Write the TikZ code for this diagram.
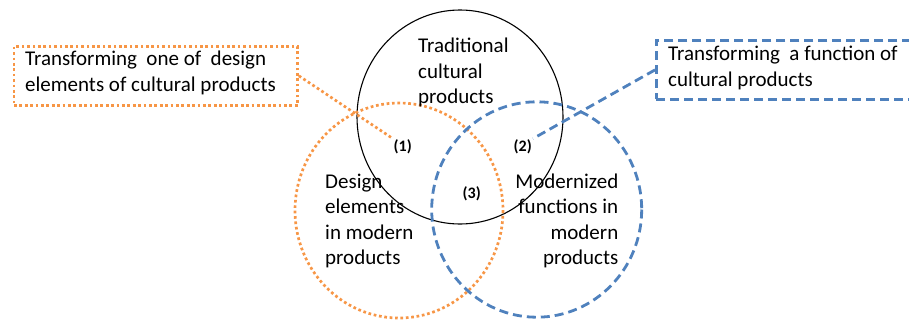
\documentclass[tikz,border=0pt]{standalone}
\usepackage{fontspec}
\setmainfont{Carlito}
\begin{document}
\begin{tikzpicture}[x=1pt,y=-1pt,
  txt/.style={inner sep=0pt,font=\fontsize{21}{25.5}\selectfont},
  num/.style={inner sep=1pt,font=\fontsize{16}{19}\selectfont\bfseries},
  orangeline/.style={draw=dotorange,line width=2.7pt,dash pattern=on 2.7pt off 2.7pt},
  blueline/.style={draw=dashblue,line width=2.8pt,dash pattern=on 9pt off 5pt},
]
\definecolor{dotorange}{HTML}{F79646}
\definecolor{dashblue}{HTML}{4F81BD}
\useasboundingbox (0,0) rectangle (909,322);

% the three sets
\draw[black,line width=1.1pt] (460,117) ellipse [x radius=103, y radius=107];
\draw[orangeline] (399,210.5) ellipse [x radius=104, y radius=107.5];
\draw[blueline] (536.7,209.5) ellipse [x radius=105, y radius=107.7];

% callout boxes
\node[orangeline,anchor=north west,minimum width=283.5,minimum height=59,inner sep=0pt] (lbox) at (12.7,45) {};
\node[blueline,anchor=north west,minimum width=280,minimum height=59,inner sep=0pt] (rbox) at (655,39) {};

% callout texts
\node[txt,anchor=base west] (l1) at (25,65.7) {Transforming\ \ one of\ \ design};
\node[txt,anchor=base west] (l2) at (25,91) {elements of cultural products};
\node[txt,anchor=base west] (r1) at (668,60.7) {Transforming\ \ a function of};
\node[txt,anchor=base west] (r2) at (668,86) {cultural products};

% set labels
\node[txt,anchor=base west] (a1) at (418,52.3) {Traditional};
\node[txt,anchor=base west] (a2) at (418,78.3) {cultural};
\node[txt,anchor=base west] (a3) at (418,103) {products};

\node[txt,anchor=base west] (b1) at (325,188.3) {Design};
\node[txt,anchor=base west] (b2) at (325,213.6) {elements};
\node[txt,anchor=base west] (b3) at (325,239.2) {in modern};
\node[txt,anchor=base west] (b4) at (325,264.6) {products};

\node[txt,anchor=base east] (c1) at (618.5,188.3) {Modernized};
\node[txt,anchor=base east] (c2) at (618.5,213.6) {functions in};
\node[txt,anchor=base east] (c3) at (618.5,239.2) {modern};
\node[txt,anchor=base east] (c4) at (618.5,264.6) {products};

% region numbers
\node[num] (n1) at (402.7,146.7) {(1)};
\node[num] (n2) at (522.7,147) {(2)};
\node[num] (n3) at (471.7,194) {(3)};

% leader lines
\draw[orangeline] (lbox.east) -- (n1.north west);
\draw[blueline] (rbox.west) -- (n2.north east);
\end{tikzpicture}
\end{document}
